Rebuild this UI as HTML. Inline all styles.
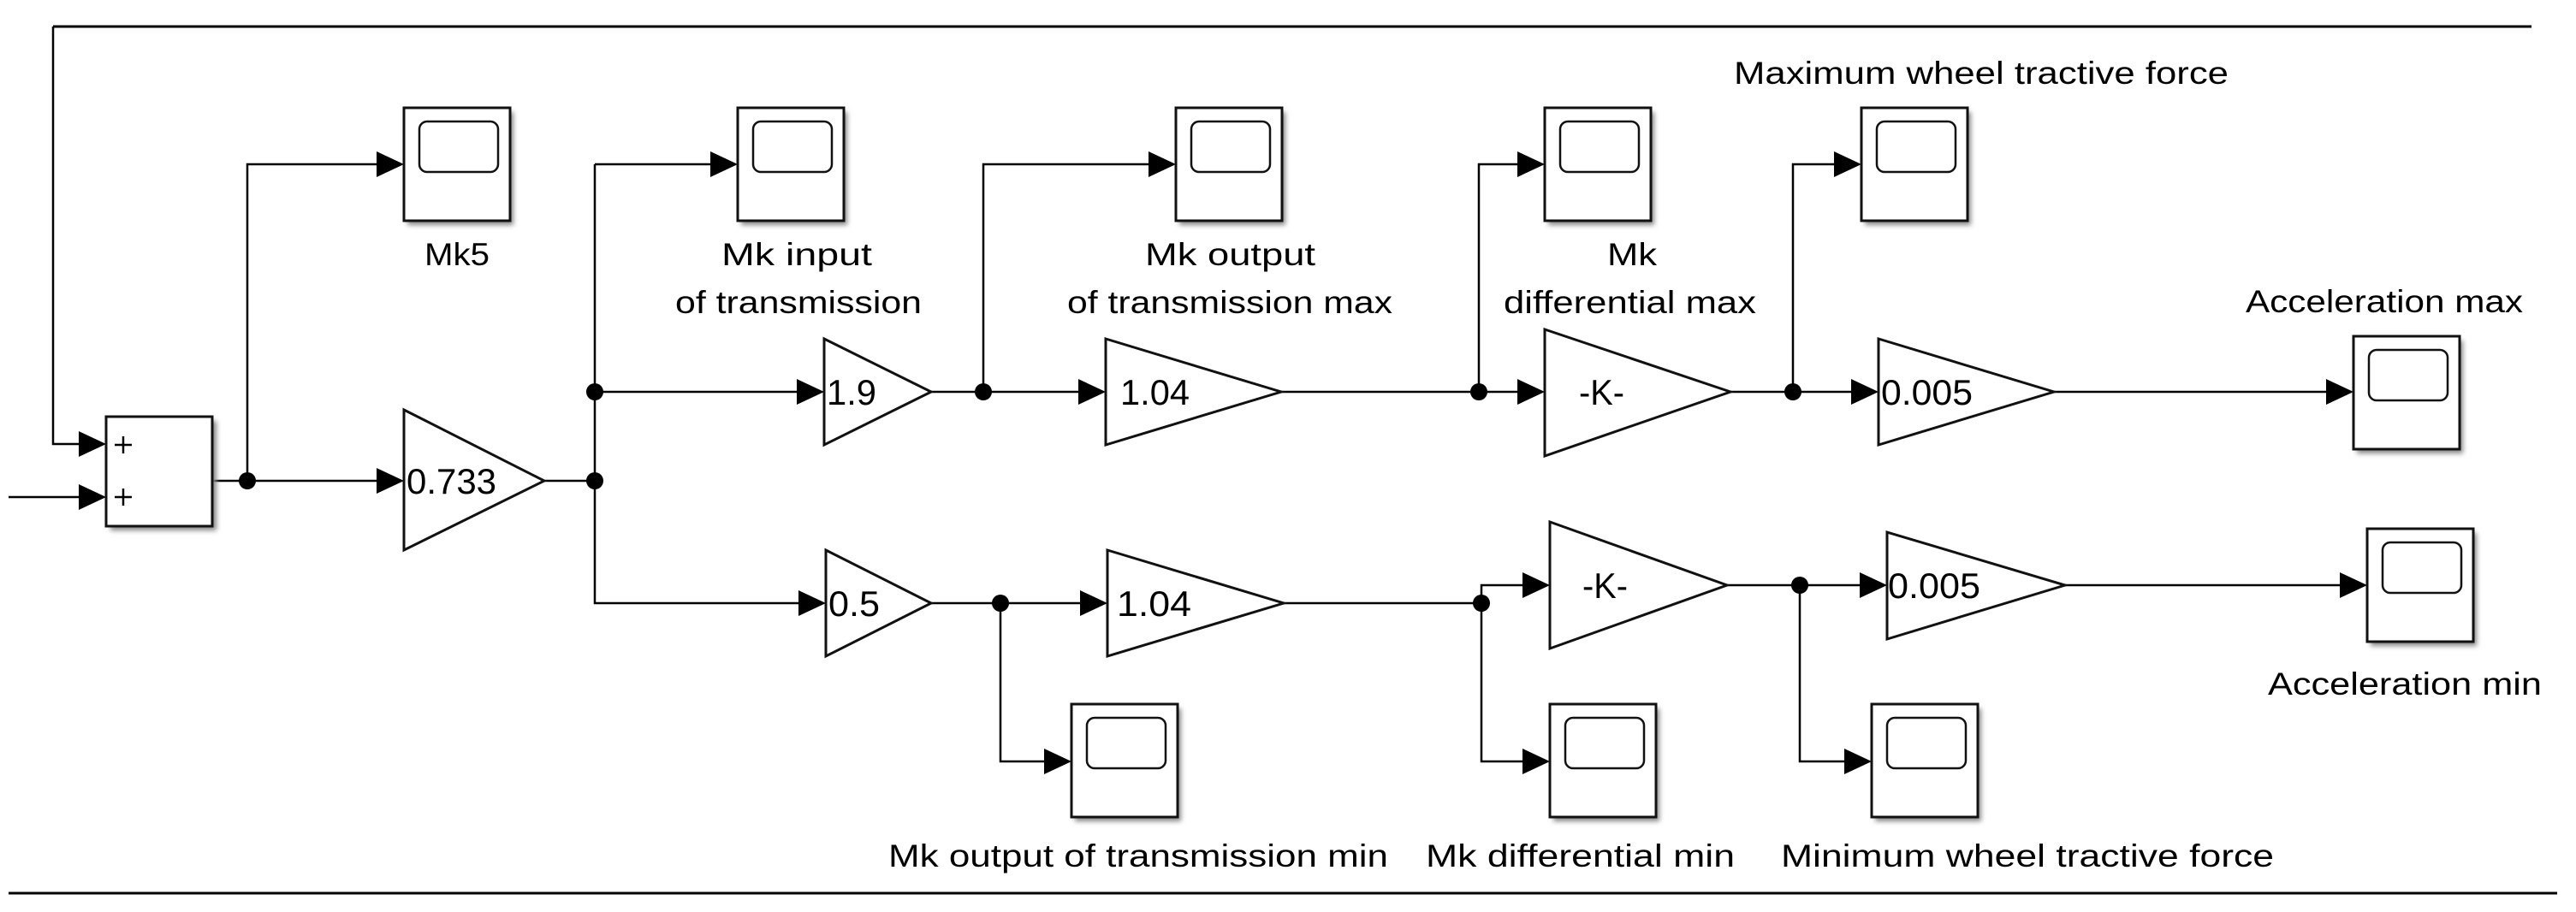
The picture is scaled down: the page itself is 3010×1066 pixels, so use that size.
<!DOCTYPE html>
<html><head><meta charset="utf-8"><style>
html,body{margin:0;padding:0;background:#fff;}
svg{display:block;}
text{font-family:"Liberation Sans",sans-serif;fill:#000;}
</style></head><body>
<svg width="3010" height="1066" viewBox="0 0 3010 1066" xmlns="http://www.w3.org/2000/svg">
<defs>
<filter id="sh" x="-20%" y="-20%" width="150%" height="150%"><feGaussianBlur stdDeviation="3"/></filter>
<g id="scope">
<rect x="4" y="5" width="124" height="132" fill="#888" filter="url(#sh)"/>
<rect x="0" y="0" width="124" height="132" fill="#fff" stroke="#111" stroke-width="3"/>
<rect x="18" y="16" width="92" height="59" rx="9" fill="#fff" stroke="#111" stroke-width="2.5"/>
</g>
</defs>

<g stroke="#000" stroke-width="2.5" fill="none">
<line x1="62" y1="31" x2="2958" y2="31" stroke-width="3"/>
<line x1="10" y1="1044" x2="2988" y2="1044" stroke-width="3"/>
<polyline points="62,31 62,519 94,519"/>
<line x1="10" y1="581" x2="94" y2="581"/>
<line x1="248" y1="562" x2="442" y2="562"/>
<polyline points="289,562 289,192 442,192"/>
<line x1="636" y1="562" x2="695" y2="562"/>
<polyline points="695,192 695,705 935,705"/>
<line x1="695" y1="192" x2="832" y2="192"/>
<line x1="695" y1="458" x2="933" y2="458"/>
<line x1="1088" y1="458" x2="1262" y2="458"/>
<polyline points="1149,458 1149,192 1344,192"/>
<line x1="1497" y1="458" x2="1775" y2="458"/>
<polyline points="1728,458 1728,192 1775,192"/>
<line x1="2022" y1="458" x2="2165" y2="458"/>
<polyline points="2095,458 2095,192 2145,192"/>
<line x1="2400" y1="458" x2="2720" y2="458"/>
<line x1="1088" y1="705" x2="1264" y2="705"/>
<polyline points="1169,705 1169,890 1222,890"/>
<line x1="1500" y1="705" x2="1731" y2="705"/>
<polyline points="1731,705 1731,684 1781,684"/>
<polyline points="1731,705 1731,890 1781,890"/>
<line x1="2018" y1="684" x2="2175" y2="684"/>
<polyline points="2103,684 2103,890 2157,890"/>
<line x1="2413" y1="684" x2="2736" y2="684"/>
</g>

<g fill="#000">
<polygon points="92,504 124,519 92,534"/>
<polygon points="92,566 124,581 92,596"/>
<polygon points="440,547 472,562 440,577"/>
<polygon points="440,177 472,192 440,207"/>
<polygon points="830,177 862,192 830,207"/>
<polygon points="931,443 963,458 931,473"/>
<polygon points="933,690 965,705 933,720"/>
<polygon points="1260,443 1292,458 1260,473"/>
<polygon points="1342,177 1374,192 1342,207"/>
<polygon points="1262,690 1294,705 1262,720"/>
<polygon points="1220,875 1252,890 1220,905"/>
<polygon points="1773,443 1805,458 1773,473"/>
<polygon points="1773,177 1805,192 1773,207"/>
<polygon points="1779,669 1811,684 1779,699"/>
<polygon points="1779,875 1811,890 1779,905"/>
<polygon points="2163,443 2195,458 2163,473"/>
<polygon points="2143,177 2175,192 2143,207"/>
<polygon points="2173,669 2205,684 2173,699"/>
<polygon points="2155,875 2187,890 2155,905"/>
<polygon points="2718,443 2750,458 2718,473"/>
<polygon points="2734,669 2766,684 2734,699"/>
<circle cx="289" cy="562" r="10"/>
<circle cx="695" cy="562" r="10"/>
<circle cx="695" cy="458" r="10"/>
<circle cx="1149" cy="458" r="10"/>
<circle cx="1728" cy="458" r="10"/>
<circle cx="2095" cy="458" r="10"/>
<circle cx="1169" cy="705" r="10"/>
<circle cx="1731" cy="705" r="10"/>
<circle cx="2103" cy="684" r="10"/>
</g>

<rect x="129" y="492" width="124" height="128" fill="#888" filter="url(#sh)"/>
<rect x="124" y="487" width="124" height="128" fill="#fff" stroke="#111" stroke-width="3"/>
<g stroke="#000" stroke-width="2.5">
<line x1="134" y1="520" x2="154" y2="520"/><line x1="144" y1="510" x2="144" y2="530"/>
<line x1="134" y1="581" x2="154" y2="581"/><line x1="144" y1="571" x2="144" y2="591"/>
</g>

<g stroke="#111" stroke-width="3" fill="#fff">
<polygon points="472,479 636,562 472,643"/>
<polygon points="963,396 1088,458 963,520"/>
<polygon points="965,643 1088,705 965,767"/>
<polygon points="1292,396 1497,458 1292,520"/>
<polygon points="1294,643 1500,705 1294,767"/>
<polygon points="1805,385 2022,458 1805,533"/>
<polygon points="1811,610 2018,684 1811,758"/>
<polygon points="2195,396 2400,458 2195,520"/>
<polygon points="2205,622 2413,684 2205,747"/>
</g>
<g font-size="42">
<text x="475" y="577" textLength="105" lengthAdjust="spacingAndGlyphs">0.733</text>
<text x="966" y="473" textLength="58" lengthAdjust="spacingAndGlyphs">1.9</text>
<text x="968" y="720" textLength="60" lengthAdjust="spacingAndGlyphs">0.5</text>
<text x="1309" y="473" textLength="81" lengthAdjust="spacingAndGlyphs">1.04</text>
<text x="1305" y="720" textLength="87" lengthAdjust="spacingAndGlyphs">1.04</text>
<text x="1845" y="473" textLength="53" lengthAdjust="spacingAndGlyphs">-K-</text>
<text x="1849" y="699" textLength="53" lengthAdjust="spacingAndGlyphs">-K-</text>
<text x="2198" y="473" textLength="107" lengthAdjust="spacingAndGlyphs">0.005</text>
<text x="2206" y="699" textLength="108" lengthAdjust="spacingAndGlyphs">0.005</text>
</g>

<use href="#scope" x="472" y="126"/>
<use href="#scope" x="862" y="126"/>
<use href="#scope" x="1374" y="126"/>
<use href="#scope" x="1805" y="126"/>
<use href="#scope" x="2175" y="126"/>
<use href="#scope" x="2750" y="393"/>
<use href="#scope" x="2766" y="618"/>
<use href="#scope" x="1252" y="823"/>
<use href="#scope" x="1811" y="823"/>
<use href="#scope" x="2187" y="823"/>

<g font-size="37">
<text x="496" y="310" textLength="76" lengthAdjust="spacingAndGlyphs">Mk5</text>
<text x="843" y="310" textLength="176" lengthAdjust="spacingAndGlyphs">Mk input</text>
<text x="789" y="366" textLength="288" lengthAdjust="spacingAndGlyphs">of transmission</text>
<text x="1338" y="310" textLength="199" lengthAdjust="spacingAndGlyphs">Mk output</text>
<text x="1247" y="366" textLength="380" lengthAdjust="spacingAndGlyphs">of transmission max</text>
<text x="1878" y="310" textLength="58" lengthAdjust="spacingAndGlyphs">Mk</text>
<text x="1757" y="366" textLength="295" lengthAdjust="spacingAndGlyphs">differential max</text>
<text x="2026" y="98" textLength="578" lengthAdjust="spacingAndGlyphs">Maximum wheel tractive force</text>
<text x="2624" y="365" textLength="324" lengthAdjust="spacingAndGlyphs">Acceleration max</text>
<text x="2650" y="812" textLength="320" lengthAdjust="spacingAndGlyphs">Acceleration min</text>
<text x="1038" y="1013" textLength="584" lengthAdjust="spacingAndGlyphs">Mk output of transmission min</text>
<text x="1666" y="1013" textLength="361" lengthAdjust="spacingAndGlyphs">Mk differential min</text>
<text x="2081" y="1013" textLength="576" lengthAdjust="spacingAndGlyphs">Minimum wheel tractive force</text>
</g>
</svg>
</body></html>
